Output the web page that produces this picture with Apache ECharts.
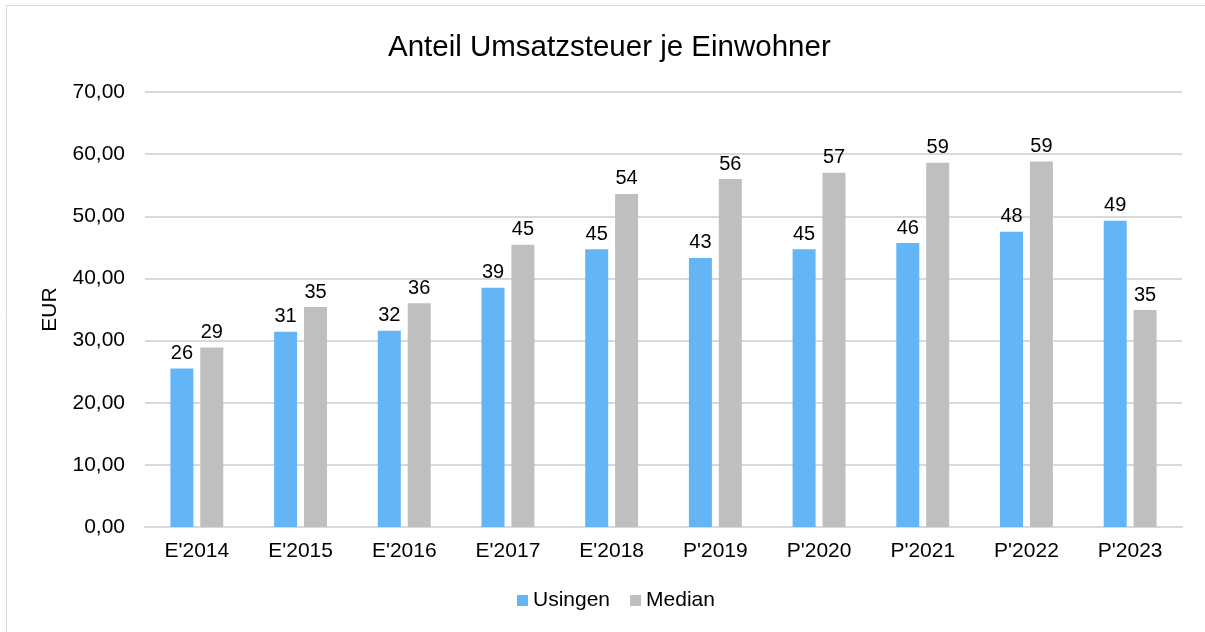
<!DOCTYPE html>
<html style="height: 100%">
  <head>
    <meta charset="utf-8" />
    <title>ECharts</title>
    <script src="https://cdn.jsdelivr.net/npm/echarts@6/dist/echarts.min.js"></script>
  </head>
  <body style="height: 100%; margin: 0">
    <div id="container" style="width: 1205px; height: 632px"></div>

    <script type="text/javascript">
      var categories = ["E'2014", "E'2015", "E'2016", "E'2017", "E'2018", "P'2019", "P'2020", "P'2021", "P'2022", "P'2023"];
      var usingen = [25.5, 31.4, 31.6, 38.5, 44.7, 43.3, 44.7, 45.7, 47.5, 49.3];
      var median = [28.9, 35.4, 36.0, 45.4, 53.6, 56.0, 57.0, 58.6, 58.8, 34.9];

      var font = 'Liberation Sans, Arial, sans-serif';
      var myChart = echarts.init(document.getElementById('container'));

      var labelStyle = {
        show: true,
        position: 'top',
        distance: 5,
        color: '#000',
        fontSize: 20,
        fontFamily: font,
        formatter: function (p) { return Math.round(p.value); }
      };

      myChart.setOption({
        backgroundColor: '#fff',
        animation: false,
        graphic: [{
          type: 'rect',
          shape: { x: 6.5, y: 5.5, width: 1200, height: 630 },
          style: { fill: 'none', stroke: '#d9d9d9', lineWidth: 1 }
        }],
        title: {
          text: 'Anteil Umsatzsteuer je Einwohner',
          left: 383,
          top: 28,
          textStyle: { fontSize: 29.5, fontWeight: 'normal', color: '#000', fontFamily: font }
        },
        legend: {
          bottom: 16,
          left: 512,
          itemWidth: 11,
          itemHeight: 11,
          itemGap: 20,
          icon: 'rect',
          textStyle: { fontSize: 21, color: '#000', fontFamily: font }
        },
        grid: { left: 145, right: 23, top: 92, bottom: 105 },
        xAxis: {
          type: 'category',
          data: categories,
          axisLine: { lineStyle: { color: '#d9d9d9', width: 2 } },
          axisTick: { show: false },
          axisLabel: { color: '#000', fontSize: 21, margin: 14, fontFamily: font }
        },
        yAxis: {
          type: 'value',
          min: 0,
          max: 70,
          interval: 10,
          name: 'EUR',
          nameLocation: 'middle',
          nameGap: 84,
          nameTextStyle: { color: '#000', fontSize: 21, fontFamily: font },
          axisLine: { show: false },
          axisTick: { show: false },
          axisLabel: {
            color: '#000', fontSize: 21, margin: 20, fontFamily: font,
            formatter: function (v) { return v.toFixed(2).replace('.', ','); }
          },
          splitLine: { lineStyle: { color: '#d9d9d9', width: 2 } }
        },
        series: [
          {
            name: 'Usingen',
            type: 'bar',
            data: usingen,
            barWidth: 23,
            barGap: '30%',
            itemStyle: { color: '#64b5f6' },
            label: labelStyle
          },
          {
            name: 'Median',
            type: 'bar',
            data: median,
            barWidth: 23,
            itemStyle: { color: '#bfbfbf' },
            label: labelStyle
          }
        ]
      });
    </script>
  </body>
</html>
